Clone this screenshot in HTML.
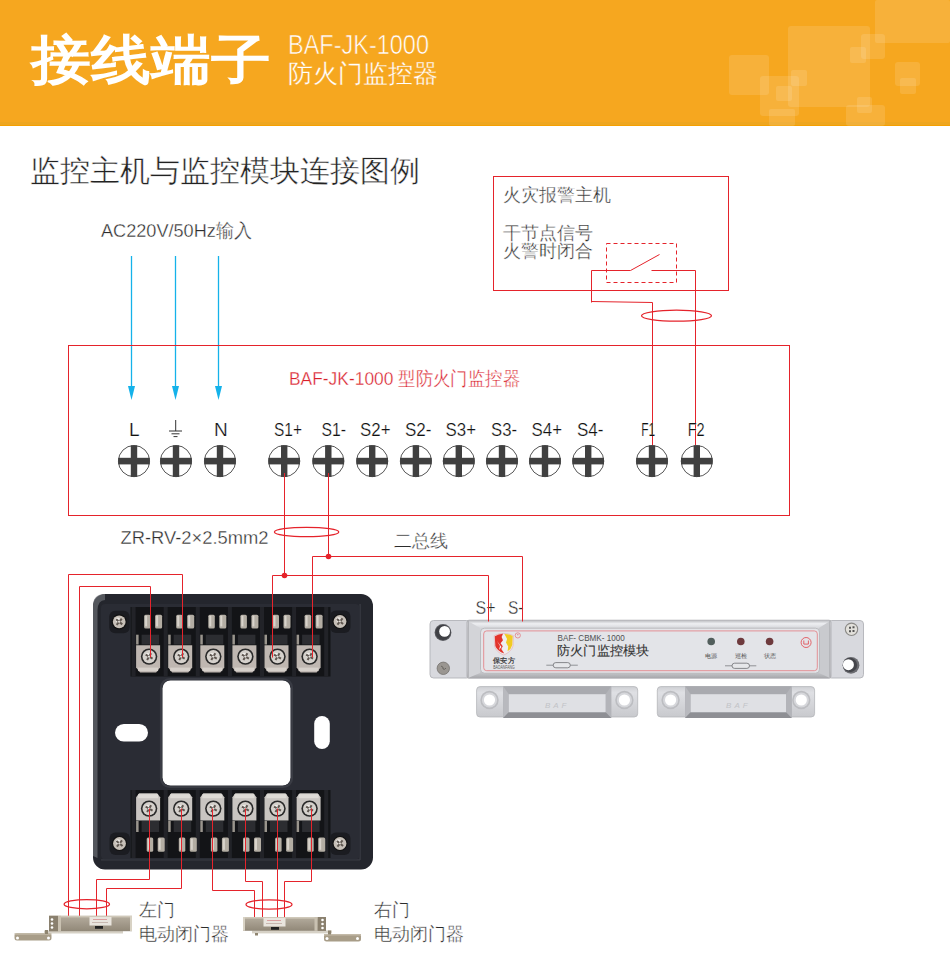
<!DOCTYPE html>
<html><head><meta charset="utf-8">
<style>
html,body{margin:0;padding:0;background:#fff;width:950px;height:965px;overflow:hidden}
svg{display:block;position:absolute;left:0;top:0}
text{font-family:"Liberation Sans",sans-serif}
.th{stroke:#fff;stroke-width:0.35px}
.th2{stroke:#fff;stroke-width:0.22px}
</style></head>
<body>
<svg width="950" height="965" viewBox="0 0 950 965">
<defs>
  <linearGradient id="boxg" x1="0" y1="0" x2="1" y2="1">
    <stop offset="0" stop-color="#2c2f36"/><stop offset="1" stop-color="#1f2126"/>
  </linearGradient>
  <linearGradient id="metal" x1="0" y1="0" x2="0" y2="1">
    <stop offset="0" stop-color="#d8d4cc"/><stop offset="0.5" stop-color="#b9b3a8"/><stop offset="1" stop-color="#8f887d"/>
  </linearGradient>
  <linearGradient id="modg" x1="0" y1="0" x2="0" y2="1">
    <stop offset="0" stop-color="#c9cacd"/><stop offset="0.15" stop-color="#e6e7e9"/><stop offset="0.85" stop-color="#d7d8db"/><stop offset="1" stop-color="#a9aaae"/>
  </linearGradient>
  <linearGradient id="closer" x1="0" y1="0" x2="0" y2="1">
    <stop offset="0" stop-color="#b5ad9e"/><stop offset="0.5" stop-color="#a39a8b"/><stop offset="1" stop-color="#918878"/>
  </linearGradient>
</defs>

<!-- header -->
<rect x="0" y="0" width="950" height="126" fill="#F6A71F"/>
<rect x="0" y="122" width="950" height="3" fill="#EEA620"/>
<rect x="0" y="125" width="950" height="1" fill="#F6A000"/>
<g fill="#ffffff" fill-opacity="0.12">
  <rect x="875" y="0" width="75" height="43" rx="2"/>
  <rect x="788" y="26" width="82" height="81" rx="3"/>
  <rect x="729" y="55" width="40" height="40" rx="3"/>
  <rect x="760" y="76" width="39" height="40" rx="3"/>
  <rect x="776" y="86" width="16" height="15" rx="2"/>
  <rect x="791" y="70" width="16" height="16" rx="2"/>
  <rect x="769" y="109" width="26" height="17" rx="2"/>
  <rect x="861" y="34" width="24" height="25" rx="3"/>
  <rect x="850" y="47" width="16" height="16" rx="2"/>
  <rect x="895" y="62" width="25" height="24" rx="3"/>
  <rect x="900" y="78" width="16" height="16" rx="2"/>
  <rect x="846" y="105" width="39" height="21" rx="3"/>
  <rect x="857" y="97" width="15" height="16" rx="2"/>
</g>
<text x="31" y="77.5" fill="#fff" font-size="53" font-weight="900" textLength="239.5" lengthAdjust="spacingAndGlyphs">接线端子</text>
<text x="288" y="54" fill="#fff" font-size="27" stroke="#F6A71F" stroke-width="0.6" textLength="141" lengthAdjust="spacingAndGlyphs">BAF-JK-1000</text>
<text x="288" y="82" fill="#fff" font-size="24.5" stroke="#F6A71F" stroke-width="0.3">防火门监控器</text>

<!-- title -->
<text x="30" y="181" fill="#222" font-size="30" stroke="#fff" stroke-width="0.45">监控主机与监控模块连接图例</text>

<!-- AC label -->
<text x="101" y="237" fill="#2c2c2c" font-size="19" class="th" textLength="151" lengthAdjust="spacingAndGlyphs">AC220V/50Hz输入</text>

<!-- blue lines -->
<g stroke="#14B2EA" stroke-width="1.3" fill="none">
  <line x1="131.5" y1="256" x2="131.5" y2="390"/>
  <line x1="175.5" y1="256" x2="175.5" y2="390"/>
  <line x1="218.5" y1="256" x2="218.5" y2="390"/>
</g>
<g fill="#14B2EA">
  <path d="M128 386 L135 386 L131.5 400 Z"/>
  <path d="M172 386 L179 386 L175.5 400 Z"/>
  <path d="M215 386 L222 386 L218.5 400 Z"/>
</g>

<!-- alarm host box -->
<g stroke="#E5232B" stroke-width="1" fill="none">
  <rect x="493.5" y="176.5" width="235" height="114"/>
  <rect x="606.5" y="243.5" width="70" height="39" stroke-dasharray="4 3"/>
  <polyline points="591.5,302.5 591.5,270.5 630.5,270.5 659.5,254.5"/>
  <polyline points="651.5,270.5 695.5,270.5 695.5,446.5"/>
  <polyline points="591.5,301.5 652.5,302.5 652.5,446.5"/>
  <ellipse cx="676.5" cy="315.7" rx="35" ry="5.5" stroke-width="1.25"/>
</g>
<text x="502.5" y="201" fill="#2c2c2c" font-size="18" class="th">火灾报警主机</text>
<text x="502.5" y="239" fill="#2c2c2c" font-size="18" class="th">干节点信号</text>
<text x="502.5" y="257" fill="#2c2c2c" font-size="18" class="th">火警时闭合</text>

<!-- big box -->
<rect x="68.5" y="345.5" width="721" height="170" stroke="#E5232B" stroke-width="1" fill="none"/>
<text x="289" y="385" fill="#D9202A" font-size="19" class="th" textLength="231" lengthAdjust="spacingAndGlyphs">BAF-JK-1000 型防火门监控器</text>

<!-- terminal labels -->
<g fill="#111" font-size="19" class="th2">
  <text x="129" y="435.5">L</text>
  <text x="214" y="435.5">N</text>
  <text x="274" y="435.5" textLength="28" lengthAdjust="spacingAndGlyphs">S1+</text>
  <text x="321.5" y="435.5" textLength="24.5" lengthAdjust="spacingAndGlyphs">S1-</text>
  <text x="360" y="435.5" textLength="30.5" lengthAdjust="spacingAndGlyphs">S2+</text>
  <text x="405" y="435.5" textLength="26.5" lengthAdjust="spacingAndGlyphs">S2-</text>
  <text x="445.5" y="435.5" textLength="30.5" lengthAdjust="spacingAndGlyphs">S3+</text>
  <text x="491" y="435.5" textLength="26" lengthAdjust="spacingAndGlyphs">S3-</text>
  <text x="531.5" y="435.5" textLength="30.5" lengthAdjust="spacingAndGlyphs">S4+</text>
  <text x="577" y="435.5" textLength="26.5" lengthAdjust="spacingAndGlyphs">S4-</text>
  <text x="641.3" y="435.5" textLength="14" lengthAdjust="spacingAndGlyphs">F1</text>
  <text x="687.7" y="435.5" textLength="17" lengthAdjust="spacingAndGlyphs">F2</text>
</g>
<!-- ground symbol -->
<g stroke="#333" stroke-width="1">
  <line x1="175.7" y1="420" x2="175.7" y2="431"/>
  <line x1="169" y1="431" x2="182" y2="431"/>
  <line x1="171.5" y1="433.8" x2="179.5" y2="433.8"/>
  <line x1="173.5" y1="436.6" x2="177.5" y2="436.6"/>
</g>

<!-- screw terminals -->
<g id="terms">
<g transform="translate(134,461.1)"><circle r="15.6" fill="#fff" stroke="#555" stroke-width="1"/><rect x="-3.2" y="-15.8" width="6.4" height="31.6" fill="#404040"/><rect x="-15.8" y="-3.3" width="31.6" height="6.6" fill="#404040"/></g>
<g transform="translate(176,461.1)"><circle r="15.6" fill="#fff" stroke="#555" stroke-width="1"/><rect x="-3.2" y="-15.8" width="6.4" height="31.6" fill="#404040"/><rect x="-15.8" y="-3.3" width="31.6" height="6.6" fill="#404040"/></g>
<g transform="translate(220,461.1)"><circle r="15.6" fill="#fff" stroke="#555" stroke-width="1"/><rect x="-3.2" y="-15.8" width="6.4" height="31.6" fill="#404040"/><rect x="-15.8" y="-3.3" width="31.6" height="6.6" fill="#404040"/></g>
<g transform="translate(284.2,461.1)"><circle r="15.6" fill="#fff" stroke="#555" stroke-width="1"/><rect x="-3.2" y="-15.8" width="6.4" height="31.6" fill="#404040"/><rect x="-15.8" y="-3.3" width="31.6" height="6.6" fill="#404040"/></g>
<g transform="translate(328.3,461.1)"><circle r="15.6" fill="#fff" stroke="#555" stroke-width="1"/><rect x="-3.2" y="-15.8" width="6.4" height="31.6" fill="#404040"/><rect x="-15.8" y="-3.3" width="31.6" height="6.6" fill="#404040"/></g>
<g transform="translate(372.2,461.1)"><circle r="15.6" fill="#fff" stroke="#555" stroke-width="1"/><rect x="-3.2" y="-15.8" width="6.4" height="31.6" fill="#404040"/><rect x="-15.8" y="-3.3" width="31.6" height="6.6" fill="#404040"/></g>
<g transform="translate(415.9,461.1)"><circle r="15.6" fill="#fff" stroke="#555" stroke-width="1"/><rect x="-3.2" y="-15.8" width="6.4" height="31.6" fill="#404040"/><rect x="-15.8" y="-3.3" width="31.6" height="6.6" fill="#404040"/></g>
<g transform="translate(458.8,461.1)"><circle r="15.6" fill="#fff" stroke="#555" stroke-width="1"/><rect x="-3.2" y="-15.8" width="6.4" height="31.6" fill="#404040"/><rect x="-15.8" y="-3.3" width="31.6" height="6.6" fill="#404040"/></g>
<g transform="translate(502,461.1)"><circle r="15.6" fill="#fff" stroke="#555" stroke-width="1"/><rect x="-3.2" y="-15.8" width="6.4" height="31.6" fill="#404040"/><rect x="-15.8" y="-3.3" width="31.6" height="6.6" fill="#404040"/></g>
<g transform="translate(545,461.1)"><circle r="15.6" fill="#fff" stroke="#555" stroke-width="1"/><rect x="-3.2" y="-15.8" width="6.4" height="31.6" fill="#404040"/><rect x="-15.8" y="-3.3" width="31.6" height="6.6" fill="#404040"/></g>
<g transform="translate(588.2,461.1)"><circle r="15.6" fill="#fff" stroke="#555" stroke-width="1"/><rect x="-3.2" y="-15.8" width="6.4" height="31.6" fill="#404040"/><rect x="-15.8" y="-3.3" width="31.6" height="6.6" fill="#404040"/></g>
<g transform="translate(652,461.1)"><circle r="15.6" fill="#fff" stroke="#555" stroke-width="1"/><rect x="-3.2" y="-15.8" width="6.4" height="31.6" fill="#404040"/><rect x="-15.8" y="-3.3" width="31.6" height="6.6" fill="#404040"/></g>
<g transform="translate(696.8,461.1)"><circle r="15.6" fill="#fff" stroke="#555" stroke-width="1"/><rect x="-3.2" y="-15.8" width="6.4" height="31.6" fill="#404040"/><rect x="-15.8" y="-3.3" width="31.6" height="6.6" fill="#404040"/></g>
</g>

<!-- lower wires -->
<g stroke="#E5232B" stroke-width="1" fill="none">
  <polyline points="284.5,473 284.5,575.5"/>
  <polyline points="328.5,473 328.5,556.5"/>
  <ellipse cx="306.6" cy="532" rx="32.2" ry="4.7" stroke-width="1.25"/>
</g>
<text x="120.5" y="544" fill="#2c2c2c" font-size="19" class="th" textLength="148" lengthAdjust="spacingAndGlyphs">ZR-RV-2×2.5mm2</text>
<text x="394" y="547" fill="#2c2c2c" font-size="18" class="th">二总线</text>
<text x="475.5" y="614" fill="#2c2c2c" font-size="19" class="th" textLength="20" lengthAdjust="spacingAndGlyphs">S+</text>
<text x="508" y="614" fill="#2c2c2c" font-size="19" class="th" textLength="15.5" lengthAdjust="spacingAndGlyphs">S-</text>

<!-- black box -->
<g id="box">
<rect x="93" y="594" width="280" height="275.5" rx="12" fill="#24262d"/>
<path d="M93 606 Q93 594 105 594 L105 600 Q98 600 97.5 610 L97.5 858 L93 856 Z" fill="#6a6c72" opacity="0.7"/>
<rect x="359.5" y="604" width="1.2" height="256" fill="#3b3d45"/>
<rect x="101" y="859.3" width="259" height="1.2" fill="#393b43"/>
<rect x="101" y="604" width="258.5" height="255.3" rx="4" fill="#2a2c34"/>
<rect x="162.5" y="680.5" width="128" height="105" rx="8" fill="#fff"/>
<rect x="161" y="679" width="131" height="108" rx="9" fill="none" stroke="#3a3c44" stroke-width="2.2"/>
<rect x="115" y="724" width="33" height="17.5" rx="8.75" fill="#fff"/>
<rect x="314.2" y="716" width="15.6" height="33" rx="7.8" fill="#fff"/>
<rect x="130.5" y="607" width="200" height="69.5" fill="#131417"/>
<rect x="131.6" y="607" width="4" height="69.5" fill="#222328"/>
<rect x="163.7" y="607" width="4" height="69.5" fill="#222328"/>
<rect x="195.8" y="607" width="4" height="69.5" fill="#222328"/>
<rect x="227.9" y="607" width="4" height="69.5" fill="#222328"/>
<rect x="260.0" y="607" width="4" height="69.5" fill="#222328"/>
<rect x="292.1" y="607" width="4" height="69.5" fill="#222328"/>
<rect x="324.2" y="607" width="4" height="69.5" fill="#222328"/>
<rect x="144.1" y="614.7" width="6.5" height="13.699999999999932" rx="1.5" fill="#b3ada3"/>
<rect x="155.1" y="614.7" width="7" height="13.699999999999932" rx="1.5" fill="#b3ada3"/>
<rect x="145.1" y="615.7" width="2" height="10.699999999999932" fill="#d8d3cb"/>
<rect x="156.1" y="615.7" width="2" height="10.699999999999932" fill="#d8d3cb"/>
<rect x="141.6" y="634.7" width="17.5" height="9.799999999999955" fill="#2c2d31"/>
<rect x="136.1" y="634.7" width="2.5" height="9.799999999999955" fill="#9a958d"/>
<path d="M136.1 645.3 L160.1 645.3 L160.1 667.6 L156.1 672.6 L140.1 672.6 L136.1 667.6 Z" fill="#bfb7b1"/>
<rect x="138.1" y="667.6" width="20.0" height="3.5" fill="#d6d0ca"/>
<circle cx="149.1" cy="656.6" r="8.2" fill="#2a2a2a"/>
<circle cx="149.1" cy="656.6" r="6.6" fill="#d5d1cc"/>
<circle cx="147.6" cy="655.1" r="2.2" fill="#f2f0ed"/>
<path d="M145.1 655.6 h8 v2 h-8z M148.1 652.6 v8 h2 v-8z" fill="#5e5650" transform="rotate(30 149.1 656.6)"/>
<rect x="176.2" y="614.7" width="6.5" height="13.699999999999932" rx="1.5" fill="#b3ada3"/>
<rect x="187.2" y="614.7" width="7" height="13.699999999999932" rx="1.5" fill="#b3ada3"/>
<rect x="177.2" y="615.7" width="2" height="10.699999999999932" fill="#d8d3cb"/>
<rect x="188.2" y="615.7" width="2" height="10.699999999999932" fill="#d8d3cb"/>
<rect x="173.7" y="634.7" width="17.5" height="9.799999999999955" fill="#2c2d31"/>
<rect x="168.2" y="634.7" width="2.5" height="9.799999999999955" fill="#9a958d"/>
<path d="M168.2 645.3 L192.2 645.3 L192.2 667.6 L188.2 672.6 L172.2 672.6 L168.2 667.6 Z" fill="#bfb7b1"/>
<rect x="170.2" y="667.6" width="20.0" height="3.5" fill="#d6d0ca"/>
<circle cx="181.2" cy="656.6" r="8.2" fill="#2a2a2a"/>
<circle cx="181.2" cy="656.6" r="6.6" fill="#d5d1cc"/>
<circle cx="179.7" cy="655.1" r="2.2" fill="#f2f0ed"/>
<path d="M177.2 655.6 h8 v2 h-8z M180.2 652.6 v8 h2 v-8z" fill="#5e5650" transform="rotate(30 181.2 656.6)"/>
<rect x="208.3" y="614.7" width="6.5" height="13.699999999999932" rx="1.5" fill="#b3ada3"/>
<rect x="219.3" y="614.7" width="7" height="13.699999999999932" rx="1.5" fill="#b3ada3"/>
<rect x="209.3" y="615.7" width="2" height="10.699999999999932" fill="#d8d3cb"/>
<rect x="220.3" y="615.7" width="2" height="10.699999999999932" fill="#d8d3cb"/>
<rect x="205.8" y="634.7" width="17.5" height="9.799999999999955" fill="#2c2d31"/>
<rect x="200.3" y="634.7" width="2.5" height="9.799999999999955" fill="#9a958d"/>
<path d="M200.3 645.3 L224.3 645.3 L224.3 667.6 L220.3 672.6 L204.3 672.6 L200.3 667.6 Z" fill="#bfb7b1"/>
<rect x="202.3" y="667.6" width="20.0" height="3.5" fill="#d6d0ca"/>
<circle cx="213.3" cy="656.6" r="8.2" fill="#2a2a2a"/>
<circle cx="213.3" cy="656.6" r="6.6" fill="#d5d1cc"/>
<circle cx="211.8" cy="655.1" r="2.2" fill="#f2f0ed"/>
<path d="M209.3 655.6 h8 v2 h-8z M212.3 652.6 v8 h2 v-8z" fill="#5e5650" transform="rotate(30 213.3 656.6)"/>
<rect x="240.4" y="614.7" width="6.5" height="13.699999999999932" rx="1.5" fill="#b3ada3"/>
<rect x="251.4" y="614.7" width="7" height="13.699999999999932" rx="1.5" fill="#b3ada3"/>
<rect x="241.4" y="615.7" width="2" height="10.699999999999932" fill="#d8d3cb"/>
<rect x="252.4" y="615.7" width="2" height="10.699999999999932" fill="#d8d3cb"/>
<rect x="237.9" y="634.7" width="17.5" height="9.799999999999955" fill="#2c2d31"/>
<rect x="232.4" y="634.7" width="2.5" height="9.799999999999955" fill="#9a958d"/>
<path d="M232.4 645.3 L256.4 645.3 L256.4 667.6 L252.4 672.6 L236.4 672.6 L232.4 667.6 Z" fill="#bfb7b1"/>
<rect x="234.4" y="667.6" width="20.0" height="3.5" fill="#d6d0ca"/>
<circle cx="245.4" cy="656.6" r="8.2" fill="#2a2a2a"/>
<circle cx="245.4" cy="656.6" r="6.6" fill="#d5d1cc"/>
<circle cx="243.9" cy="655.1" r="2.2" fill="#f2f0ed"/>
<path d="M241.4 655.6 h8 v2 h-8z M244.4 652.6 v8 h2 v-8z" fill="#5e5650" transform="rotate(30 245.4 656.6)"/>
<rect x="272.5" y="614.7" width="6.5" height="13.699999999999932" rx="1.5" fill="#b3ada3"/>
<rect x="283.5" y="614.7" width="7" height="13.699999999999932" rx="1.5" fill="#b3ada3"/>
<rect x="273.5" y="615.7" width="2" height="10.699999999999932" fill="#d8d3cb"/>
<rect x="284.5" y="615.7" width="2" height="10.699999999999932" fill="#d8d3cb"/>
<rect x="270.0" y="634.7" width="17.5" height="9.799999999999955" fill="#2c2d31"/>
<rect x="264.5" y="634.7" width="2.5" height="9.799999999999955" fill="#9a958d"/>
<path d="M264.5 645.3 L288.5 645.3 L288.5 667.6 L284.5 672.6 L268.5 672.6 L264.5 667.6 Z" fill="#bfb7b1"/>
<rect x="266.5" y="667.6" width="20.0" height="3.5" fill="#d6d0ca"/>
<circle cx="277.5" cy="656.6" r="8.2" fill="#2a2a2a"/>
<circle cx="277.5" cy="656.6" r="6.6" fill="#d5d1cc"/>
<circle cx="276.0" cy="655.1" r="2.2" fill="#f2f0ed"/>
<path d="M273.5 655.6 h8 v2 h-8z M276.5 652.6 v8 h2 v-8z" fill="#5e5650" transform="rotate(30 277.5 656.6)"/>
<rect x="304.6" y="614.7" width="6.5" height="13.699999999999932" rx="1.5" fill="#b3ada3"/>
<rect x="315.6" y="614.7" width="7" height="13.699999999999932" rx="1.5" fill="#b3ada3"/>
<rect x="305.6" y="615.7" width="2" height="10.699999999999932" fill="#d8d3cb"/>
<rect x="316.6" y="615.7" width="2" height="10.699999999999932" fill="#d8d3cb"/>
<rect x="302.1" y="634.7" width="17.5" height="9.799999999999955" fill="#2c2d31"/>
<rect x="296.6" y="634.7" width="2.5" height="9.799999999999955" fill="#9a958d"/>
<path d="M296.6 645.3 L320.6 645.3 L320.6 667.6 L316.6 672.6 L300.6 672.6 L296.6 667.6 Z" fill="#bfb7b1"/>
<rect x="298.6" y="667.6" width="20.0" height="3.5" fill="#d6d0ca"/>
<circle cx="309.6" cy="656.6" r="8.2" fill="#2a2a2a"/>
<circle cx="309.6" cy="656.6" r="6.6" fill="#d5d1cc"/>
<circle cx="308.1" cy="655.1" r="2.2" fill="#f2f0ed"/>
<path d="M305.6 655.6 h8 v2 h-8z M308.6 652.6 v8 h2 v-8z" fill="#5e5650" transform="rotate(30 309.6 656.6)"/>
<rect x="130.5" y="790" width="200" height="68" fill="#131417"/>
<rect x="131.6" y="790" width="4" height="68" fill="#222328"/>
<rect x="163.7" y="790" width="4" height="68" fill="#222328"/>
<rect x="195.8" y="790" width="4" height="68" fill="#222328"/>
<rect x="227.9" y="790" width="4" height="68" fill="#222328"/>
<rect x="260.0" y="790" width="4" height="68" fill="#222328"/>
<rect x="292.1" y="790" width="4" height="68" fill="#222328"/>
<rect x="324.2" y="790" width="4" height="68" fill="#222328"/>
<rect x="146.7" y="837.6" width="6.5" height="14.199999999999932" rx="1.5" fill="#b3ada3"/>
<rect x="157.7" y="837.6" width="7" height="14.199999999999932" rx="1.5" fill="#b3ada3"/>
<rect x="147.7" y="838.6" width="2" height="11.199999999999932" fill="#d8d3cb"/>
<rect x="158.7" y="838.6" width="2" height="11.199999999999932" fill="#d8d3cb"/>
<rect x="141.6" y="821" width="17.5" height="11" fill="#2c2d31"/>
<rect x="136.1" y="821" width="2.5" height="11" fill="#9a958d"/>
<path d="M139.1 793.2 L157.1 793.2 L160.1 797.2 L160.1 820.5 L136.1 820.5 L136.1 797.2 Z" fill="#c9c5c1"/>
<rect x="138.1" y="794.2" width="20.0" height="4" fill="#dedbd6"/>
<circle cx="149.1" cy="808.6" r="8.2" fill="#2a2a2a"/>
<circle cx="149.1" cy="808.6" r="6.6" fill="#d5d1cc"/>
<circle cx="147.6" cy="807.1" r="2.2" fill="#f2f0ed"/>
<path d="M145.1 807.6 h8 v2 h-8z M148.1 804.6 v8 h2 v-8z" fill="#5e5650" transform="rotate(30 149.1 808.6)"/>
<rect x="178.8" y="837.6" width="6.5" height="14.199999999999932" rx="1.5" fill="#b3ada3"/>
<rect x="189.8" y="837.6" width="7" height="14.199999999999932" rx="1.5" fill="#b3ada3"/>
<rect x="179.8" y="838.6" width="2" height="11.199999999999932" fill="#d8d3cb"/>
<rect x="190.8" y="838.6" width="2" height="11.199999999999932" fill="#d8d3cb"/>
<rect x="173.7" y="821" width="17.5" height="11" fill="#2c2d31"/>
<rect x="168.2" y="821" width="2.5" height="11" fill="#9a958d"/>
<path d="M171.2 793.2 L189.2 793.2 L192.2 797.2 L192.2 820.5 L168.2 820.5 L168.2 797.2 Z" fill="#c9c5c1"/>
<rect x="170.2" y="794.2" width="20.0" height="4" fill="#dedbd6"/>
<circle cx="181.2" cy="808.6" r="8.2" fill="#2a2a2a"/>
<circle cx="181.2" cy="808.6" r="6.6" fill="#d5d1cc"/>
<circle cx="179.7" cy="807.1" r="2.2" fill="#f2f0ed"/>
<path d="M177.2 807.6 h8 v2 h-8z M180.2 804.6 v8 h2 v-8z" fill="#5e5650" transform="rotate(30 181.2 808.6)"/>
<rect x="210.9" y="837.6" width="6.5" height="14.199999999999932" rx="1.5" fill="#b3ada3"/>
<rect x="221.9" y="837.6" width="7" height="14.199999999999932" rx="1.5" fill="#b3ada3"/>
<rect x="211.9" y="838.6" width="2" height="11.199999999999932" fill="#d8d3cb"/>
<rect x="222.9" y="838.6" width="2" height="11.199999999999932" fill="#d8d3cb"/>
<rect x="205.8" y="821" width="17.5" height="11" fill="#2c2d31"/>
<rect x="200.3" y="821" width="2.5" height="11" fill="#9a958d"/>
<path d="M203.3 793.2 L221.3 793.2 L224.3 797.2 L224.3 820.5 L200.3 820.5 L200.3 797.2 Z" fill="#c9c5c1"/>
<rect x="202.3" y="794.2" width="20.0" height="4" fill="#dedbd6"/>
<circle cx="213.3" cy="808.6" r="8.2" fill="#2a2a2a"/>
<circle cx="213.3" cy="808.6" r="6.6" fill="#d5d1cc"/>
<circle cx="211.8" cy="807.1" r="2.2" fill="#f2f0ed"/>
<path d="M209.3 807.6 h8 v2 h-8z M212.3 804.6 v8 h2 v-8z" fill="#5e5650" transform="rotate(30 213.3 808.6)"/>
<rect x="243.0" y="837.6" width="6.5" height="14.199999999999932" rx="1.5" fill="#b3ada3"/>
<rect x="254.0" y="837.6" width="7" height="14.199999999999932" rx="1.5" fill="#b3ada3"/>
<rect x="244.0" y="838.6" width="2" height="11.199999999999932" fill="#d8d3cb"/>
<rect x="255.0" y="838.6" width="2" height="11.199999999999932" fill="#d8d3cb"/>
<rect x="237.9" y="821" width="17.5" height="11" fill="#2c2d31"/>
<rect x="232.4" y="821" width="2.5" height="11" fill="#9a958d"/>
<path d="M235.4 793.2 L253.4 793.2 L256.4 797.2 L256.4 820.5 L232.4 820.5 L232.4 797.2 Z" fill="#c9c5c1"/>
<rect x="234.4" y="794.2" width="20.0" height="4" fill="#dedbd6"/>
<circle cx="245.4" cy="808.6" r="8.2" fill="#2a2a2a"/>
<circle cx="245.4" cy="808.6" r="6.6" fill="#d5d1cc"/>
<circle cx="243.9" cy="807.1" r="2.2" fill="#f2f0ed"/>
<path d="M241.4 807.6 h8 v2 h-8z M244.4 804.6 v8 h2 v-8z" fill="#5e5650" transform="rotate(30 245.4 808.6)"/>
<rect x="275.1" y="837.6" width="6.5" height="14.199999999999932" rx="1.5" fill="#b3ada3"/>
<rect x="286.1" y="837.6" width="7" height="14.199999999999932" rx="1.5" fill="#b3ada3"/>
<rect x="276.1" y="838.6" width="2" height="11.199999999999932" fill="#d8d3cb"/>
<rect x="287.1" y="838.6" width="2" height="11.199999999999932" fill="#d8d3cb"/>
<rect x="270.0" y="821" width="17.5" height="11" fill="#2c2d31"/>
<rect x="264.5" y="821" width="2.5" height="11" fill="#9a958d"/>
<path d="M267.5 793.2 L285.5 793.2 L288.5 797.2 L288.5 820.5 L264.5 820.5 L264.5 797.2 Z" fill="#c9c5c1"/>
<rect x="266.5" y="794.2" width="20.0" height="4" fill="#dedbd6"/>
<circle cx="277.5" cy="808.6" r="8.2" fill="#2a2a2a"/>
<circle cx="277.5" cy="808.6" r="6.6" fill="#d5d1cc"/>
<circle cx="276.0" cy="807.1" r="2.2" fill="#f2f0ed"/>
<path d="M273.5 807.6 h8 v2 h-8z M276.5 804.6 v8 h2 v-8z" fill="#5e5650" transform="rotate(30 277.5 808.6)"/>
<rect x="307.2" y="837.6" width="6.5" height="14.199999999999932" rx="1.5" fill="#b3ada3"/>
<rect x="318.2" y="837.6" width="7" height="14.199999999999932" rx="1.5" fill="#b3ada3"/>
<rect x="308.2" y="838.6" width="2" height="11.199999999999932" fill="#d8d3cb"/>
<rect x="319.2" y="838.6" width="2" height="11.199999999999932" fill="#d8d3cb"/>
<rect x="302.1" y="821" width="17.5" height="11" fill="#2c2d31"/>
<rect x="296.6" y="821" width="2.5" height="11" fill="#9a958d"/>
<path d="M299.6 793.2 L317.6 793.2 L320.6 797.2 L320.6 820.5 L296.6 820.5 L296.6 797.2 Z" fill="#c9c5c1"/>
<rect x="298.6" y="794.2" width="20.0" height="4" fill="#dedbd6"/>
<circle cx="309.6" cy="808.6" r="8.2" fill="#2a2a2a"/>
<circle cx="309.6" cy="808.6" r="6.6" fill="#d5d1cc"/>
<circle cx="308.1" cy="807.1" r="2.2" fill="#f2f0ed"/>
<path d="M305.6 807.6 h8 v2 h-8z M308.6 804.6 v8 h2 v-8z" fill="#5e5650" transform="rotate(30 309.6 808.6)"/>
<rect x="109.2" y="610.8" width="20.5" height="22.5" rx="6" fill="#1b1c21"/>
<circle cx="119.2" cy="621.8" r="7.6" fill="#121212"/>
<circle cx="119.2" cy="621.8" r="6.4" fill="#c6bfb7"/>
<circle cx="117.7" cy="620.0" r="2.4" fill="#ece9e5"/>
<path d="M115.2 620.8 h8 v2 h-8z M118.2 617.8 v8 h2 v-8z" fill="#5f5750" transform="rotate(40 119.2 621.8)"/>
<rect x="330" y="610.5" width="20.5" height="22.5" rx="6" fill="#1b1c21"/>
<circle cx="340" cy="621.5" r="7.6" fill="#121212"/>
<circle cx="340" cy="621.5" r="6.4" fill="#c6bfb7"/>
<circle cx="338.5" cy="619.7" r="2.4" fill="#ece9e5"/>
<path d="M336 620.5 h8 v2 h-8z M339 617.5 v8 h2 v-8z" fill="#5f5750" transform="rotate(40 340 621.5)"/>
<rect x="109.5" y="832.5" width="20.5" height="22.5" rx="6" fill="#1b1c21"/>
<circle cx="119.5" cy="843.5" r="7.6" fill="#121212"/>
<circle cx="119.5" cy="843.5" r="6.4" fill="#c6bfb7"/>
<circle cx="118.0" cy="841.7" r="2.4" fill="#ece9e5"/>
<path d="M115.5 842.5 h8 v2 h-8z M118.5 839.5 v8 h2 v-8z" fill="#5f5750" transform="rotate(40 119.5 843.5)"/>
<rect x="330" y="832.5" width="20.5" height="22.5" rx="6" fill="#1b1c21"/>
<circle cx="340" cy="843.5" r="7.6" fill="#121212"/>
<circle cx="340" cy="843.5" r="6.4" fill="#c6bfb7"/>
<circle cx="338.5" cy="841.7" r="2.4" fill="#ece9e5"/>
<path d="M336 842.5 h8 v2 h-8z M339 839.5 v8 h2 v-8z" fill="#5f5750" transform="rotate(40 340 843.5)"/>
</g>

<!-- module -->
<g id="module">
<linearGradient id="endg" x1="0" y1="0" x2="1" y2="0"><stop offset="0" stop-color="#b9babf"/><stop offset="0.15" stop-color="#dcdde1"/><stop offset="0.85" stop-color="#d9dade"/><stop offset="1" stop-color="#b4b5ba"/></linearGradient>
<linearGradient id="barg" x1="0" y1="0" x2="0" y2="1"><stop offset="0" stop-color="#b9babe"/><stop offset="0.06" stop-color="#eeeff2"/><stop offset="0.14" stop-color="#d5d6da"/><stop offset="0.86" stop-color="#d3d4d8"/><stop offset="1" stop-color="#a6a7ab"/></linearGradient>
<linearGradient id="magg" x1="0" y1="0" x2="0" y2="1"><stop offset="0" stop-color="#cfd0d4"/><stop offset="0.2" stop-color="#dfe0e4"/><stop offset="1" stop-color="#c8c9cd"/></linearGradient>
<rect x="430" y="620.5" width="40" height="57.5" rx="3.5" fill="#d8d9de" stroke="#b2b3b8" stroke-width="0.9"/>
<rect x="828" y="620.5" width="35.5" height="57.5" rx="3.5" fill="#d8d9de" stroke="#b2b3b8" stroke-width="0.9"/>
<rect x="467" y="620.2" width="364" height="58" rx="2" fill="url(#barg)" stroke="#a9aaae" stroke-width="0.8"/>
<path d="M468 621 L480 628 L480 673 L468 678 Z" fill="#d3d4d8"/>
<path d="M830 621 L819 628 L819 673 L830 678 Z" fill="#c9cace"/>
<rect x="467.5" y="620.2" width="1.5" height="58" fill="#b5b6ba"/>
<rect x="829" y="620.2" width="1.5" height="58" fill="#b5b6ba"/>
<rect x="480.5" y="628.2" width="339" height="45" rx="4" fill="#e3e4e8" stroke="#b3b4b8" stroke-width="0.8"/>
<rect x="483.7" y="630.9" width="333.6" height="39.8" rx="3" fill="none" stroke="#e3868b" stroke-width="0.9"/>
<circle cx="443" cy="632.5" r="8.4" fill="#5b5c61"/><circle cx="443" cy="632.5" r="7.6" fill="#3f4045"/><circle cx="444.6" cy="631.4" r="5.4" fill="#fff"/>
<circle cx="443.3" cy="668.3" r="6.2" fill="#9a9691" stroke="#75726e" stroke-width="0.8"/><path d="M441 666 q3 1 2 3 q2 1 3 -1" stroke="#5d5a56" stroke-width="0.8" fill="none"/>
<circle cx="851.5" cy="629.3" r="6.2" fill="#e2e0db" stroke="#8b8a87" stroke-width="1.1"/><path d="M849 626.8h2v2h-2zM852.5 626.3h2v2h-2zM849 630.3h2v2h-2zM852.5 630h2v2h-2z" fill="#555"/>
<circle cx="851" cy="665.3" r="8.4" fill="#6b6c71"/><circle cx="850" cy="665" r="7.2" fill="#45464b"/><circle cx="848.4" cy="664.7" r="5.5" fill="#fff"/>
<path d="M494.2 635.6 Q503 631.2 513.4 635.6 L513 646 Q511 652 503.8 655 Q496 652 494.6 646 Z" fill="#eeeef0" stroke="#e6a3a8" stroke-width="0.6"/>
<path d="M494.8 636.2 Q498.5 634.2 503 633.8 L501.6 637 L503 640.3 L500.6 643.2 L502.8 646.2 L501.3 649 L504.3 653.6 Q497.2 651.2 495.3 646 Z" fill="#e3342c"/>
<path d="M497 641 L500 646 L499 650 L501.5 647 Z" fill="#f4f4f6"/>
<path d="M504.4 634 Q509 634 512.7 636 L512.3 645 Q511 649.5 507.6 651.2 L508.2 646.5 L506 642.5 L507.1 639 Z" fill="#f1cb22"/>
<circle cx="517.8" cy="635.4" r="2.6" fill="none" stroke="#e27c83" stroke-width="0.8"/><path d="M517 634.3 h1.5 v1 h-1.5z" fill="#e27c83"/>
<text x="493.2" y="663" font-size="7.2" fill="#3a3a3a" stroke="#3a3a3a" stroke-width="0.25" textLength="21.5" lengthAdjust="spacingAndGlyphs">保安方</text>
<text x="493.2" y="668.7" font-size="5" fill="#555" textLength="21.5" lengthAdjust="spacingAndGlyphs">BAOANFANG</text>
<text x="557.6" y="641" font-size="8.6" fill="#505050" textLength="67.2" lengthAdjust="spacingAndGlyphs">BAF- CBMK- 1000</text>
<text x="557" y="654.6" font-size="13.2" fill="#333" stroke="#333" stroke-width="0.12" textLength="92.2" lengthAdjust="spacingAndGlyphs">防火门监控模块</text>
<line x1="546.3" y1="665.2" x2="577.8" y2="665.2" stroke="#6d6e72" stroke-width="0.7"/>
<rect x="553.2" y="662.6" width="17.09999999999991" height="5.2" rx="2.6" fill="#e6e7ea" stroke="#6d6e72" stroke-width="0.8"/>
<line x1="725" y1="665.8" x2="756.3" y2="665.8" stroke="#6d6e72" stroke-width="0.7"/>
<rect x="732" y="663.1999999999999" width="17.5" height="5.2" rx="2.6" fill="#e6e7ea" stroke="#6d6e72" stroke-width="0.8"/>
<circle cx="711.2" cy="641.5" r="3.8" fill="#525e5c"/>
<circle cx="740.8" cy="641.5" r="3.8" fill="#6e3a3d"/>
<circle cx="769.6" cy="641.5" r="3.8" fill="#6e3a3d"/>
<text x="705.2" y="657.5" font-size="6.3" fill="#555" textLength="12.3" lengthAdjust="spacingAndGlyphs">电源</text>
<text x="734.5" y="657.5" font-size="6.3" fill="#555" textLength="12.3" lengthAdjust="spacingAndGlyphs">巡检</text>
<text x="763.9" y="657.5" font-size="6.3" fill="#555" textLength="12.3" lengthAdjust="spacingAndGlyphs">状态</text>
<circle cx="806.1" cy="642.5" r="5" fill="none" stroke="#e2555b" stroke-width="0.9"/><path d="M803.8 640.5 v3.6 h4.6 v-3.6" fill="none" stroke="#e2555b" stroke-width="0.9"/>
<rect x="476.6" y="686.6" width="161.1" height="30.4" rx="3.5" fill="url(#magg)" stroke="#b4b5b9" stroke-width="0.8"/>
<rect x="503.2" y="686.2" width="108.0" height="31.8" fill="#a9aaaf"/>
<path d="M503.2 686.2 L508.8 694.2 L508.8 712.2 L503.2 718 Z" fill="#b8b9be"/>
<path d="M611.2 686.2 L605.6 694.2 L605.6 712.2 L611.2 718 Z" fill="#b3b4b9"/>
<path d="M503.2 718 L508.7 712.2 L605.7 712.2 L611.2 718 Z" fill="#8e8f94"/>
<rect x="508.8" y="694.2" width="96.8" height="18" fill="#dfe0e4"/>
<text x="557.2" y="707.6" font-size="8" font-style="italic" fill="#c2c3c7" text-anchor="middle" letter-spacing="3">BAF</text>
<circle cx="489.5" cy="700" r="9.2" fill="#bcbdc1"/><circle cx="489.5" cy="700" r="7.6" fill="#d6d7db"/><circle cx="489.5" cy="700" r="5.6" fill="#fff"/>
<circle cx="624.4" cy="700" r="9.2" fill="#bcbdc1"/><circle cx="624.4" cy="700" r="7.6" fill="#d6d7db"/><circle cx="624.4" cy="700" r="5.6" fill="#fff"/>
<rect x="657.3" y="686.6" width="157.3" height="30.4" rx="3.5" fill="url(#magg)" stroke="#b4b5b9" stroke-width="0.8"/>
<rect x="685.1" y="686.2" width="106.5" height="31.8" fill="#a9aaaf"/>
<path d="M685.1 686.2 L690.7 694.2 L690.7 712.2 L685.1 718 Z" fill="#b8b9be"/>
<path d="M791.6 686.2 L786.0 694.2 L786.0 712.2 L791.6 718 Z" fill="#b3b4b9"/>
<path d="M685.1 718 L690.6 712.2 L786.1 712.2 L791.6 718 Z" fill="#8e8f94"/>
<rect x="690.7" y="694.2" width="95.3" height="18" fill="#dfe0e4"/>
<text x="738.4" y="707.6" font-size="8" font-style="italic" fill="#c2c3c7" text-anchor="middle" letter-spacing="3">BAF</text>
<circle cx="670.6" cy="700" r="9.2" fill="#bcbdc1"/><circle cx="670.6" cy="700" r="7.6" fill="#d6d7db"/><circle cx="670.6" cy="700" r="5.6" fill="#fff"/>
<circle cx="801.3" cy="700" r="9.2" fill="#bcbdc1"/><circle cx="801.3" cy="700" r="7.6" fill="#d6d7db"/><circle cx="801.3" cy="700" r="5.6" fill="#fff"/>
</g>

<!-- box wires -->
<g stroke="#E5232B" stroke-width="1" fill="none">
  <polyline points="272.5,657.5 272.5,575.5 488.5,575.5 488.5,621.5"/>
  <polyline points="312.5,657.5 312.5,556.5 522.5,556.5 522.5,621.5"/>
  <polyline points="150.5,657.5 150.5,586.5 79.5,586.5 79.5,916.5"/>
  <polyline points="182.5,657.5 182.5,574.5 68.5,574.5 68.5,916.5"/>
  <polyline points="149.5,808.5 149.5,879.5 96.5,879.5 96.5,916.5"/>
  <polyline points="181.5,808.5 181.5,888.5 106.5,888.5 106.5,916.5"/>
  <polyline points="212.5,808.5 212.5,890.5 254.5,890.5 254.5,917.5"/>
  <polyline points="245.5,808.5 245.5,881.5 262.5,881.5 262.5,917.5"/>
  <polyline points="277.5,808.5 277.5,917.5"/>
  <polyline points="311.5,808.5 311.5,881.5 284.5,881.5 284.5,917.5"/>
  <ellipse cx="86.8" cy="904.2" rx="22.7" ry="4.6" stroke-width="1.25"/>
  <ellipse cx="269" cy="904.5" rx="23" ry="4.7" stroke-width="1.25"/>
</g>

<g fill="#E5232B">
  <circle cx="284.5" cy="575.5" r="2.8"/>
  <circle cx="328.5" cy="556.5" r="2.8"/>
</g>

<!-- closers -->
<g id="closers">
  <!-- left closer -->
  <rect x="44" y="930.5" width="79" height="3" fill="#d6d1c6"/>
  <rect x="49" y="915.8" width="83" height="15.4" fill="url(#closer)"/>
  <rect x="49" y="915.8" width="83" height="1.6" fill="#cfc8b9"/>
  <rect x="49" y="915.8" width="9" height="15.4" fill="#8a806e"/>
  <rect x="58" y="915.8" width="3" height="15.4" fill="#c9c1b1"/>
  <circle cx="52" cy="919.5" r="1.3" fill="#fff"/><circle cx="52" cy="923.5" r="1.3" fill="#fff"/><circle cx="52" cy="927.5" r="1.3" fill="#fff"/>
  <rect x="89.5" y="917" width="22" height="8.5" fill="#e9e5de"/><rect x="93" y="919" width="14" height="1" fill="#d9a0a0"/><rect x="92" y="922" width="16" height="1" fill="#c8b8b0"/>
  <rect x="95" y="926" width="8" height="2.8" fill="#222"/>
  <rect x="130" y="916" width="2" height="15" fill="#d8d2c4"/>
  <rect x="14.5" y="933.2" width="37" height="7.4" rx="2.5" fill="#a89d88"/>
  <rect x="14.5" y="933.2" width="37" height="1.5" fill="#c3baa8"/>
  <circle cx="17.5" cy="938" r="1.5" fill="#fff"/><circle cx="48.5" cy="938" r="1.5" fill="#fff"/>
  <rect x="45" y="930" width="3" height="4" fill="#8f8570"/>
  <!-- right closer -->
  <rect x="252" y="930.4" width="80" height="3" fill="#d6d1c6"/>
  <rect x="243" y="917" width="83" height="13.8" fill="url(#closer)"/>
  <rect x="243" y="917" width="83" height="1.6" fill="#cfc8b9"/>
  <rect x="243" y="917" width="2" height="13.8" fill="#d8d2c4"/>
  <rect x="317.5" y="917" width="8.5" height="13.8" fill="#8a806e"/>
  <rect x="314.5" y="917" width="3" height="13.8" fill="#c9c1b1"/>
  <circle cx="322.5" cy="920" r="1.3" fill="#fff"/><circle cx="322.5" cy="924" r="1.3" fill="#fff"/><circle cx="322.5" cy="928" r="1.3" fill="#fff"/>
  <rect x="263.5" y="918" width="22" height="8.5" fill="#e9e5de"/><rect x="267" y="920" width="14" height="1" fill="#d9a0a0"/><rect x="266" y="923" width="16" height="1" fill="#c8b8b0"/>
  <rect x="271" y="927" width="8" height="2.8" fill="#222"/>
  <rect x="324" y="934" width="37" height="7.4" rx="2.5" fill="#a89d88"/>
  <rect x="324" y="934" width="37" height="1.5" fill="#c3baa8"/>
  <circle cx="327" cy="938.6" r="1.5" fill="#fff"/><circle cx="357.5" cy="938.6" r="1.5" fill="#fff"/>
  <rect x="328" y="930.5" width="3" height="4" fill="#8f8570"/>
  <rect x="255" y="933" width="3" height="2.5" fill="#8f8570"/>
</g>
<text x="139" y="916" fill="#2c2c2c" font-size="18" class="th">左门</text>
<text x="138.5" y="940" fill="#2c2c2c" font-size="18" class="th">电动闭门器</text>
<text x="374" y="916" fill="#2c2c2c" font-size="18" class="th">右门</text>
<text x="374" y="940" fill="#2c2c2c" font-size="18" class="th">电动闭门器</text>
</svg>
</body></html>
